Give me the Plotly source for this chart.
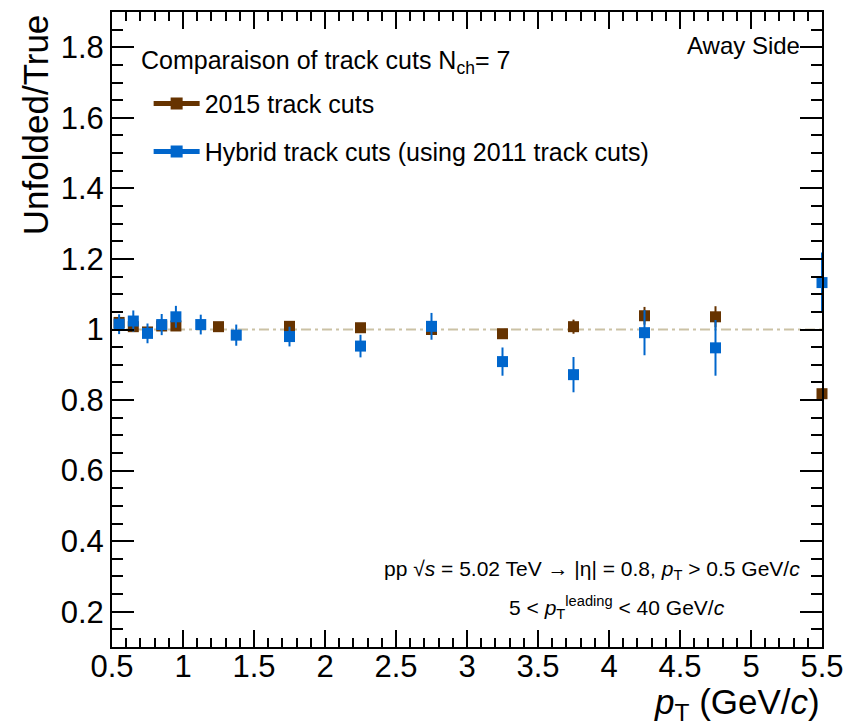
import plotly.graph_objects as go

# ---- data ----
pt_2015 = [0.55, 0.65, 0.75, 0.85, 0.95, 1.25, 1.75, 2.25, 2.75, 3.25, 3.75, 4.25, 4.75, 5.5]
ratio_2015 = [1.020, 1.008, 0.993, 1.010, 1.010, 1.008, 1.009, 1.005, 1.000, 0.988, 1.008, 1.039, 1.036, 0.818]
err_2015 = [0.010, 0.010, 0.010, 0.010, 0.012, 0.008, 0.010, 0.010, 0.012, 0.012, 0.020, 0.025, 0.030, 0.015]

pt_hybrid = [0.55, 0.65, 0.75, 0.85, 0.95, 1.125, 1.375, 1.75, 2.25, 2.75, 3.25, 3.75, 4.25, 4.75, 5.5]
ratio_hybrid = [1.015, 1.024, 0.989, 1.014, 1.036, 1.014, 0.984, 0.980, 0.953, 1.009, 0.909, 0.872, 0.991, 0.948, 1.133]
err_hybrid = [0.028, 0.030, 0.028, 0.030, 0.031, 0.028, 0.030, 0.028, 0.032, 0.038, 0.040, 0.050, 0.064, 0.079, 0.085]

reference_ratio = 1.0
x_range = [0.5, 5.5]
y_range = [0.1, 1.9]

BROWN = "#663300"
BLUE = "#0066cc"
FONT = "Liberation Sans"

fig = go.Figure()

fig.add_hline(y=reference_ratio, line=dict(color="#cbc2a5", width=2, dash="10px,4px,3px,4px"), layer="below")

fig.add_trace(go.Scatter(
    x=pt_2015, y=ratio_2015, mode="markers", showlegend=False, cliponaxis=False,
    marker=dict(symbol="square", size=11, color=BROWN),
    error_y=dict(type="data", array=err_2015, color=BROWN, thickness=2, width=0),
))
fig.add_trace(go.Scatter(
    x=pt_hybrid, y=ratio_hybrid, mode="markers", showlegend=False, cliponaxis=False,
    marker=dict(symbol="square", size=11, color=BLUE),
    error_y=dict(type="data", array=err_hybrid, color=BLUE, thickness=2, width=0),
))

# legend-only entries
fig.add_trace(go.Scatter(
    x=[None], y=[None], mode="lines+markers", name="2015 track cuts", legend="legend",
    marker=dict(symbol="square", size=11, color=BROWN), line=dict(color=BROWN, width=2),
))
fig.add_trace(go.Scatter(
    x=[None], y=[None], mode="lines+markers", name="Hybrid track cuts (using 2011 track cuts)",
    legend="legend2",
    marker=dict(symbol="square", size=11, color=BLUE), line=dict(color=BLUE, width=2),
))

axis_common = dict(
    showline=True, linewidth=2, linecolor="black", mirror="ticks",
    ticks="inside", tickwidth=2, tickcolor="black",
    showgrid=False, zeroline=False,
    tickfont=dict(family=FONT, size=31, color="black"),
)

fig.update_xaxes(
    range=x_range, tick0=0.5, dtick=0.5, ticklen=17, ticklabelstandoff=-9,
    minor=dict(dtick=0.1, ticklen=9, ticks="inside", tickwidth=2, tickcolor="black", showgrid=False),
    **axis_common,
)
fig.update_yaxes(
    range=y_range, tick0=0.2, dtick=0.2, ticklen=22,
    minor=dict(dtick=0.05, ticklen=11, ticks="inside", tickwidth=2, tickcolor="black", showgrid=False),
    **axis_common,
)

legend_common = dict(
    font=dict(family=FONT, size=25, color="black"), bgcolor="rgba(0,0,0,0)",
    xanchor="left", yanchor="middle", itemsizing="constant", itemwidth=46,
)
fig.update_layout(
    width=854, height=727,
    margin=dict(l=112, r=26, t=10, b=80),
    paper_bgcolor="white", plot_bgcolor="white",
    legend=dict(x=0.0516, y=0.8555, **legend_common),
    legend2=dict(x=0.0516, y=0.780, **legend_common),
    font=dict(family=FONT, color="black"),
)

ann = [
    dict(text="Comparaison of track cuts N<sub>ch</sub>= 7", x=0.0377, y=0.921,
         xanchor="left", yanchor="middle", font=dict(size=25)),
    dict(text="Away Side", x=0.972, y=0.948, xanchor="right", yanchor="middle", font=dict(size=24)),
    dict(text="pp √<i>s</i> = 5.02 TeV → |η| = 0.8, <i>p</i><sub>T</sub> > 0.5 GeV/<i>c</i>",
         x=0.972, y=0.121, xanchor="right", yanchor="middle", font=dict(size=21)),
    dict(text="5 < <i>p</i><sub>T</sub><sup>leading</sup> < 40 GeV/<i>c</i>",
         x=0.866, y=0.0628, xanchor="right", yanchor="middle", font=dict(size=21)),
    dict(text="Unfolded/True", x=-0.1075, y=1.0, xanchor="center", yanchor="top",
         textangle=-90, font=dict(size=35)),
    dict(text="<i>p</i><sub>T</sub> (GeV/<i>c</i>)", x=1.0, y=-0.0905, xanchor="right",
         yanchor="middle", font=dict(size=35)),
]
for a in ann:
    a.update(xref="paper", yref="paper", showarrow=False)
    a["font"].update(family=FONT, color="black")
    fig.add_annotation(**a)

fig.write_html("out.html")
